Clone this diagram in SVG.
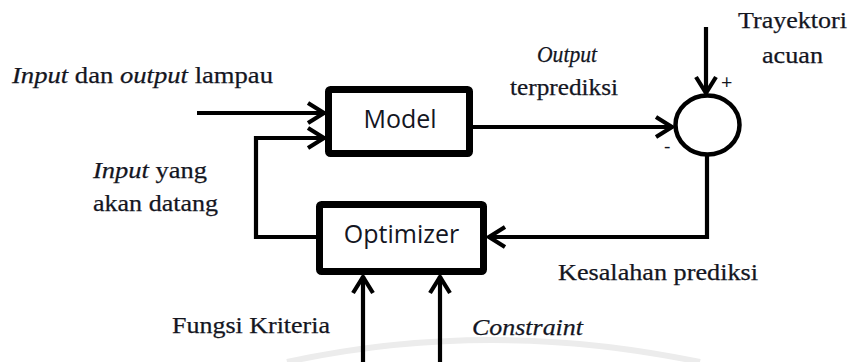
<svg xmlns="http://www.w3.org/2000/svg" width="851" height="362" viewBox="0 0 851 362">
  <style>
    .box { fill: #fff; stroke: #000; stroke-width: 7; }
    .sum { fill: #fff; stroke: #000; stroke-width: 4.5; }
    .wire { fill: none; stroke: #000; stroke-width: 4.2; }
    .arrow { marker-end: url(#chev); }
    .blk { font-family: "Open Sans", "Liberation Sans", sans-serif; font-size: 25px; fill: #14161f; text-anchor: middle; }
    .lbl { font-family: "Liberation Serif", "Times New Roman", serif; font-size: 24px; fill: #14161f; stroke: #14161f; stroke-width: 0.25; }
    .it { font-style: italic; }
    .sign { font-family: "Open Sans", "Liberation Sans", sans-serif; font-size: 20px; fill: #14161f; }
    .mark { fill: none; stroke: #ececec; stroke-width: 6; }
  </style>
  <defs>
    <marker id="chev" viewBox="-22 -14 26 28" refX="0" refY="0" markerWidth="26" markerHeight="28" markerUnits="userSpaceOnUse" orient="auto">
      <path d="M-17,-10 L-1,0 L-17,10" fill="none" stroke="#000" stroke-width="4.2" stroke-linejoin="miter"/>
    </marker>
  </defs>

  <rect width="851" height="362" fill="#fff"/>

  <!-- faint background seal -->
  <path class="mark" d="M287,362 Q490,318 700,362"/>

  <!-- connectors -->
  <g id="connectors">
    <path class="wire arrow" d="M197,113 H325"/>
    <path class="wire arrow" d="M318,237 H256 V138 H325"/>
    <path class="wire arrow" d="M473,127 H673"/>
    <path class="wire arrow" d="M706,27 V94"/>
    <path class="wire arrow" d="M707,156 V237 H488"/>
    <path class="wire arrow" d="M363,362 V276"/>
    <path class="wire arrow" d="M440,362 V276"/>
  </g>

  <g id="model">
    <rect class="box" x="328.5" y="89.5" width="141" height="64" rx="2"/>
    <text class="blk" x="400" y="128">Model</text>
  </g>

  <g id="optimizer">
    <rect class="box" x="319.5" y="204.5" width="164" height="67" rx="2"/>
    <text class="blk" x="401.5" y="243">Optimizer</text>
  </g>

  <g id="summing-junction">
    <ellipse class="sum" cx="707.5" cy="125" rx="32" ry="29.5"/>
    <text class="sign" x="721" y="89">+</text>
    <text class="sign" x="664" y="153">-</text>
  </g>

  <g id="labels">
    <text class="lbl" x="12" y="83" textLength="261" lengthAdjust="spacingAndGlyphs"><tspan class="it">Input</tspan> dan <tspan class="it">output</tspan> lampau</text>
    <text class="lbl it" x="537" y="62" textLength="60" lengthAdjust="spacingAndGlyphs">Output</text>
    <text class="lbl" x="510" y="95" textLength="108" lengthAdjust="spacingAndGlyphs">terprediksi</text>
    <text class="lbl" x="738" y="28" textLength="109" lengthAdjust="spacingAndGlyphs">Trayektori</text>
    <text class="lbl" x="762" y="63" textLength="61" lengthAdjust="spacingAndGlyphs">acuan</text>
    <text class="lbl" x="93" y="178" textLength="114" lengthAdjust="spacingAndGlyphs"><tspan class="it">Input</tspan> yang</text>
    <text class="lbl" x="93" y="211" textLength="125" lengthAdjust="spacingAndGlyphs">akan datang</text>
    <text class="lbl" x="558" y="280" textLength="200" lengthAdjust="spacingAndGlyphs">Kesalahan prediksi</text>
    <text class="lbl" x="172" y="333" textLength="158" lengthAdjust="spacingAndGlyphs">Fungsi Kriteria</text>
    <text class="lbl it" x="472" y="335" textLength="111" lengthAdjust="spacingAndGlyphs">Constraint</text>
  </g>
</svg>
